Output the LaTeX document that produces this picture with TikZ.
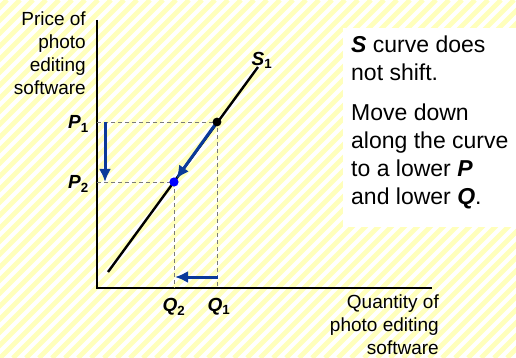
\documentclass[tikz,border=0pt]{standalone}
\usepackage{fontspec}
\setmainfont{Liberation Sans}
\usetikzlibrary{arrows.meta, positioning, calc}
\definecolor{StripeYellow}{HTML}{FFFFBC}
\definecolor{ArrowBlue}{HTML}{0A3A9A}
\definecolor{DotBlue}{HTML}{0000FF}
\definecolor{DashGray}{HTML}{7A7A7A}
\tikzset{
  axisline/.style={line width=1.4pt, draw=black},
  guide/.style={draw=DashGray, line width=0.9pt, dash pattern=on 4pt off 3pt},
  moveline/.style={-{Latex[length=13pt, width=12pt]}, line width=3pt, draw=ArrowBlue},
  supplyline/.style={line width=2.4pt, draw=black}
}
\newcommand{\sublabel}[2]{\textbf{\textit{#1}}\textsubscript{\textbf{#2}}}

\begin{document}
\begin{tikzpicture}[x=1pt, y=-1pt,
  axistext/.style={font=\fontsize{19}{23}\selectfont, align=right, inner sep=0pt},
  notetext/.style={font=\fontsize{23}{28}\selectfont, align=left, inner sep=0pt},
  steplabel/.style={font=\fontsize{19}{22}\selectfont, inner sep=0pt}
]
% striped background
\fill[white] (0,0) rectangle (516,358);
\begin{scope}
  \clip (0,0) rectangle (516,358);
  \foreach \k in {-28,...,40}
    \draw[StripeYellow, line width=4.8pt] (\k*13,358) -- ++(358,-358);
\end{scope}
\useasboundingbox (0,0) rectangle (516,358);
\fill[white] (343,28) rectangle (516,227);

% axes
\coordinate (origin) at (97,288);
\coordinate (ytop) at (97,20);
\coordinate (xend) at (432,288);
\draw[axisline] (ytop) -- (origin) -- (xend);

% supply curve and equilibria
\coordinate (slow) at (108,272);
\coordinate (shigh) at (258,67);
\coordinate (eqone) at (217,122);
\coordinate (eqtwo) at (174,182);
\draw[supplyline] (slow) -- (shigh);
\draw[guide] (origin |- eqone) -- (eqone) -- (eqone |- origin);
\draw[guide] (origin |- eqtwo) -- (eqtwo) -- (eqtwo |- origin);

% movements
\coordinate (pdstart) at (105,122);
\coordinate (pdend) at (105,182);
\coordinate (qdstart) at (218,277);
\coordinate (qdend) at (175,277);
\draw[moveline] (pdstart) -- (pdend);
\draw[moveline] (qdstart) -- (qdend);
\draw[moveline, shorten >=4pt] (eqone) -- (eqtwo);
\fill[black] (eqone) circle (4.4pt);
\fill[DotBlue] (eqtwo) circle (4.6pt);

% labels
\node[axistext, anchor=north east] (ylab) at (86,12) {Price of\\photo\\editing\\software};
\node[axistext, anchor=north east] (xlab) at (439,295) {Quantity of\\photo editing\\software};
\node[steplabel, anchor=east] (pone) at (89,124) {\sublabel{P}{1}};
\node[steplabel, anchor=east] (ptwo) at (89,184) {\sublabel{P}{2}};
\node[steplabel] (qone) at (219,307) {\sublabel{Q}{1}};
\node[steplabel] (qtwo) at (174,307) {\sublabel{Q}{2}};
\node[steplabel] (sone) at (262,60) {\sublabel{S}{1}};
\node[notetext, anchor=north west] (noshift) at (351,36) {\textbf{\textit{S}} curve does\\not shift.};
\node[notetext, anchor=north west] (movedown) at (351,104) {Move down\\along the curve\\to a lower \textbf{\textit{P}}\\and lower \textbf{\textit{Q}}.};
\end{tikzpicture}
\end{document}
